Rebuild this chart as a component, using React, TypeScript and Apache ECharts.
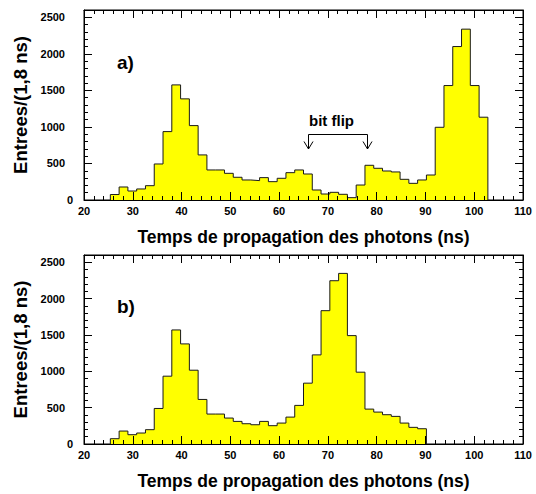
import React, { useEffect, useRef } from "react";
import * as echarts from "echarts";

// Histogram binning: 50 bins of 1.8 ns between 20 and 110 ns
const X_MIN = 20;
const X_MAX = 110;
const BIN_WIDTH = 1.8;
const X_INTERVAL = 10;
const Y_MAX = 2600;
const Y_INTERVAL = 500;
const Y_MINOR = 100;

// a) counts per bin, starting at bin index 3 (25.4 ns)
const FIRST_BIN_A = 3;
const countsA = [
  75, 178, 123, 151, 196, 493, 936, 1575, 1384, 1018, 617, 411, 411, 365, 311,
  274, 265, 306, 251, 297, 374, 411, 356, 137, 82, 105, 78, 32, 205, 475, 434,
  397, 384, 283, 228, 274, 342, 995, 1566, 2100, 2338, 1566, 1133,
];

// b) counts per bin, starting at bin index 3 (25.4 ns)
const FIRST_BIN_B = 3;
const countsB = [
  73, 178, 128, 151, 197, 489, 933, 1569, 1377, 1015, 613, 412, 412, 357, 311,
  279, 265, 311, 252, 288, 370, 531, 837, 1226, 1834, 2246, 2347, 1491, 988,
  480, 439, 403, 380, 288, 229, 210,
];

const X_TITLE = "Temps de propagation des photons (ns)";
const Y_TITLE = "Entrees/(1,8 ns)";
const PANEL_LABELS = ["a)", "b)"];
const ANNOTATION = "bit flip";

const FONT = "'Liberation Sans', Arial, sans-serif";

function edge(i: number) {
  return +(X_MIN + i * BIN_WIDTH).toFixed(4);
}

function stepPoints(first: number, counts: number[]) {
  const pts: number[][] = [];
  pts.push([edge(first), 0]);
  counts.forEach((c, i) => pts.push([edge(first + i), c]));
  const end = edge(first + counts.length);
  pts.push([end, counts[counts.length - 1]]);
  pts.push([end, 0]);
  return pts;
}

export default function App() {
  const ref = useRef<HTMLDivElement>(null);

  useEffect(() => {
    if (!ref.current) return;
    const chart = echarts.init(ref.current, undefined, { renderer: "svg" });

    const grids = [
      { left: 84, top: 10, width: 439, height: 190 },
      { left: 84, top: 255, width: 439, height: 189 },
    ];

    const xAxes: any[] = [];
    const yAxes: any[] = [];
    const series: any[] = [];

    const tickStyle = { color: "#000", width: 1 };

    grids.forEach((g, gi) => {
      // bottom x axis (labels + title)
      xAxes.push({
        gridIndex: gi,
        type: "value",
        position: "bottom",
        min: X_MIN,
        max: X_MAX,
        interval: X_INTERVAL,
        z: 5,
        axisLine: { show: true, onZero: false, lineStyle: { color: "#000" } },
        axisTick: { show: true, inside: true, length: 8, lineStyle: tickStyle },
        minorTick: { show: true, splitNumber: 5, length: 4, lineStyle: tickStyle },
        splitLine: { show: false },
        axisLabel: {
          color: "#000",
          fontSize: 11,
          fontWeight: "bold",
          fontFamily: FONT,
          margin: 5,
        },
        name: X_TITLE,
        nameLocation: "middle",
        nameGap: 28,
        nameTextStyle: { color: "#000", fontSize: 17.5, fontWeight: "bold", fontFamily: FONT },
      });
      // top x axis (ticks only)
      xAxes.push({
        gridIndex: gi,
        type: "value",
        position: "top",
        min: X_MIN,
        max: X_MAX,
        interval: X_INTERVAL,
        z: 5,
        axisLine: { show: true, onZero: false, lineStyle: { color: "#000" } },
        axisTick: { show: true, inside: true, length: 8, lineStyle: tickStyle },
        minorTick: { show: true, splitNumber: 5, length: 4, lineStyle: tickStyle },
        splitLine: { show: false },
        axisLabel: { show: false },
      });
      // left y axis major (labels + title)
      yAxes.push({
        gridIndex: gi,
        type: "value",
        position: "left",
        min: 0,
        max: Y_MAX,
        interval: Y_INTERVAL,
        z: 5,
        axisLine: { show: true, onZero: false, lineStyle: { color: "#000" } },
        axisTick: { show: true, inside: true, length: 8, lineStyle: tickStyle },
        splitLine: { show: false },
        axisLabel: {
          color: "#000",
          fontSize: 11,
          fontWeight: "bold",
          fontFamily: FONT,
          margin: 11,
          showMaxLabel: false,
          formatter: (v: number) => (v === 0 ? "{z|0}" : "{n|" + v + "}"),
          rich: {
            z: { color: "#000", fontSize: 11, fontWeight: "bold", fontFamily: FONT },
            n: {
              color: "#000",
              fontSize: 11,
              fontWeight: "bold",
              fontFamily: FONT,
              padding: [0, 8, 0, 0],
            },
          },
        },
        name: Y_TITLE,
        nameLocation: "middle",
        nameGap: 50,
        nameTextStyle: { color: "#000", fontSize: 18.5, fontWeight: "bold", fontFamily: FONT },
      });
      // left y axis minor ticks
      yAxes.push({
        gridIndex: gi,
        type: "value",
        position: "left",
        min: 0,
        max: Y_MAX,
        interval: Y_MINOR,
        z: 5,
        axisLine: { show: false, onZero: false },
        axisTick: { show: true, inside: true, length: 4, lineStyle: tickStyle },
        splitLine: { show: false },
        axisLabel: { show: false },
      });
      // right y axis major
      yAxes.push({
        gridIndex: gi,
        type: "value",
        position: "right",
        min: 0,
        max: Y_MAX,
        interval: Y_INTERVAL,
        z: 5,
        axisLine: { show: true, onZero: false, lineStyle: { color: "#000" } },
        axisTick: { show: true, inside: true, length: 8, lineStyle: tickStyle },
        splitLine: { show: false },
        axisLabel: { show: false },
      });
      // right y axis minor
      yAxes.push({
        gridIndex: gi,
        type: "value",
        position: "right",
        min: 0,
        max: Y_MAX,
        interval: Y_MINOR,
        z: 5,
        axisLine: { show: false, onZero: false },
        axisTick: { show: true, inside: true, length: 4, lineStyle: tickStyle },
        splitLine: { show: false },
        axisLabel: { show: false },
      });

      const first = gi === 0 ? FIRST_BIN_A : FIRST_BIN_B;
      const counts = gi === 0 ? countsA : countsB;
      series.push({
        type: "line",
        xAxisIndex: gi * 2,
        yAxisIndex: gi * 4,
        step: "end",
        symbol: "none",
        data: stepPoints(first, counts),
        lineStyle: { color: "#1a1a1a", width: 1 },
        areaStyle: { color: "#ffff00", opacity: 1 },
        z: 2,
        silent: true,
      });
    });

    const labelFont = "bold 19px " + FONT;

    chart.setOption({
      animation: false,
      backgroundColor: "#fff",
      grid: grids.map((g) => ({
        ...g,
        show: true,
        borderColor: "#000",
        borderWidth: 1,
        backgroundColor: "transparent",
      })),
      xAxis: xAxes,
      yAxis: yAxes,
      series,
      graphic: [
        {
          type: "text",
          left: 117,
          top: 53,
          style: { text: PANEL_LABELS[0], font: labelFont, fill: "#000" },
        },
        {
          type: "text",
          left: 117,
          top: 297,
          style: { text: PANEL_LABELS[1], font: labelFont, fill: "#000" },
        },
        {
          type: "text",
          left: 309,
          top: 113,
          style: { text: ANNOTATION, font: "bold 15px " + FONT, fill: "#000" },
        },
        {
          type: "polyline",
          shape: { points: [[308.5, 149], [308.5, 134.5], [367.5, 134.5], [367.5, 149]] },
          style: { stroke: "#000", lineWidth: 1, fill: "none" },
        },
        {
          type: "polyline",
          shape: { points: [[304, 141.5], [308.5, 149], [313, 141.5]] },
          style: { stroke: "#000", lineWidth: 1, fill: "none" },
        },
        {
          type: "polyline",
          shape: { points: [[363, 141.5], [367.5, 149], [372, 141.5]] },
          style: { stroke: "#000", lineWidth: 1, fill: "none" },
        },
      ],
    });

    return () => chart.dispose();
  }, []);

  return (
    <div
      ref={ref}
      style={{ position: "fixed", left: 0, top: 0, width: 536, height: 494 }}
    />
  );
}
